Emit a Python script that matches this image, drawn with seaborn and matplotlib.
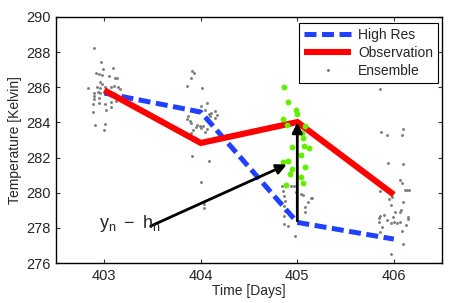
import numpy as np
import pandas as pd
import matplotlib
matplotlib.use("Agg")
import matplotlib.pyplot as plt
import seaborn as sns
from matplotlib.lines import Line2D

# ---- data ----
days = [403, 404, 405, 406]
high_res = [285.67, 284.59, 278.31, 277.36]
observation = [285.83, 282.83, 284.02, 279.89]

ens_gray_x = [
    402.89, 402.97, 402.99, 403.09, 402.91, 402.94, 402.98, 403.05, 403.11, 403.13,
    402.96, 402.98, 402.83, 402.92, 402.96, 403.01, 403.07, 403.10, 403.14, 403.16,
    402.89, 402.93, 402.96, 402.89, 402.89, 402.95, 403.07, 403.13, 402.88, 402.94,
    403.01, 403.07, 403.12, 403.07, 403.02, 402.88, 402.90, 403.01, 403.00,
    403.91, 403.93, 403.90, 403.86, 404.01, 404.06, 404.00, 403.92, 403.95, 404.04,
    404.08, 404.11, 404.15, 404.10, 403.87, 403.86, 403.89, 403.90, 403.96, 403.99,
    404.02, 403.95, 404.00, 403.92, 404.06, 403.90, 404.04, 403.91, 404.09, 404.00,
    404.03, 404.03, 404.15, 404.17,
    404.84, 404.89, 404.93, 404.97, 404.85, 404.99, 405.04, 405.06, 404.86, 405.14,
    404.87, 405.11, 405.08, 404.86, 404.87, 405.08, 404.86, 404.90, 404.86, 405.01,
    404.98, 405.15,
    405.86, 406.10, 405.87, 405.93, 406.09, 405.94, 406.10, 406.08, 405.86, 406.12,
    406.14, 406.16, 405.95, 405.98, 406.10, 405.97, 406.07, 405.90, 405.86, 405.85,
    406.01, 406.06, 405.99, 406.15, 406.15, 405.93, 405.97, 406.00, 406.03, 406.06,
    405.85, 406.13, 405.88, 406.08, 405.86, 406.10, 405.97, 406.06,
]
ens_gray_y = [
    288.24, 287.42, 287.02, 287.11, 286.81, 286.73, 286.70, 286.64, 286.53, 286.53,
    286.30, 286.19, 285.98, 285.99, 285.96, 286.03, 286.03, 286.09, 285.99, 285.88,
    285.67, 285.73, 285.65, 285.52, 285.35, 285.39, 285.52, 285.42, 285.07, 285.11,
    285.05, 285.14, 285.24, 284.90, 284.72, 284.57, 283.87, 283.91, 283.59,
    286.94, 286.81, 286.55, 286.05, 285.98, 285.10, 284.91, 284.72, 284.57, 284.68,
    284.50, 284.54, 284.67, 284.34, 284.34, 284.19, 284.06, 283.97, 283.87, 283.81,
    283.77, 283.74, 283.68, 283.59, 283.63, 283.40, 283.43, 282.11, 281.78, 280.59,
    279.13, 279.33, 284.25, 284.44,
    280.36, 280.36, 280.36, 280.36, 280.07, 280.02, 279.94, 279.87, 279.79, 279.70,
    279.53, 279.45, 279.19, 279.26, 278.94, 278.88, 278.65, 278.12, 278.24, 278.27,
    277.55, 279.70,
    285.90, 283.63, 283.45, 283.26, 283.30, 281.69, 281.63, 280.55, 280.07, 280.17,
    280.13, 280.17, 279.66, 279.76, 279.47, 279.32, 279.03, 278.75, 278.69, 278.56,
    278.88, 278.92, 278.62, 278.62, 278.50, 278.42, 278.28, 278.31, 278.28, 278.35,
    278.35, 278.16, 278.05, 277.82, 277.74, 277.10, 276.51, 280.70,
]

ens_green_x = [
    404.86, 404.90, 404.99, 405.00, 404.85, 404.89, 405.08, 405.05, 405.06, 404.94,
    405.07, 405.12, 405.04, 404.85, 404.90, 405.08, 404.94, 404.92, 405.04, 405.06,
    404.88,
]
ens_green_y = [
    286.02, 285.14, 284.68, 284.46, 284.19, 283.87, 283.81, 283.40, 283.11, 282.60,
    282.64, 282.56, 282.12, 281.72, 281.80, 281.46, 281.35, 281.08, 280.89, 280.55,
    280.45,
]

x_ticks = [403, 404, 405, 406]
y_ticks = [276, 278, 280, 282, 284, 286, 288, 290]

# ---- style ----
sns.set_theme(style="ticks")
plt.rcParams["font.family"] = ["Liberation Sans", "DejaVu Sans"]
plt.rcParams["mathtext.fontset"] = "custom"
plt.rcParams["mathtext.rm"] = "Liberation Sans"
plt.rcParams["mathtext.it"] = "Liberation Sans"

fig = plt.figure(figsize=(4.52, 3.03), dpi=100)
ax = fig.add_axes([0.124, 0.132, 0.854, 0.812])

gray_df = pd.DataFrame({"day": ens_gray_x, "temp": ens_gray_y})
green_df = pd.DataFrame({"day": ens_green_x, "temp": ens_green_y})
line_df = pd.DataFrame({"day": days, "high": high_res, "obs": observation})

sns.scatterplot(data=gray_df, x="day", y="temp", ax=ax, color="#7f7f7f",
                s=4.5, linewidth=0, zorder=2)

sns.lineplot(data=line_df, x="day", y="high", ax=ax, color="#2040ff",
             linewidth=3.6, zorder=3)
ax.lines[-1].set_linestyle((0, (2.4, 1.1)))
ax.lines[-1].set_dash_capstyle("butt")
sns.lineplot(data=line_df, x="day", y="obs", ax=ax, color="#ff0000",
             linewidth=4.4, zorder=4)
ax.lines[-1].set_solid_capstyle("butt")
ax.lines[-1].set_solid_joinstyle("miter")

sns.scatterplot(data=green_df, x="day", y="temp", ax=ax, color="#66ee00",
                s=18, linewidth=0, zorder=5)

# arrows
ax.annotate("", xy=(405.0, 284.0), xytext=(405.0, 278.4),
            arrowprops=dict(arrowstyle="-|>", color="black", lw=2,
                            mutation_scale=15, shrinkA=0, shrinkB=0),
            zorder=6)
ax.annotate("", xy=(404.89, 281.6), xytext=(403.48, 278.1),
            arrowprops=dict(arrowstyle="-|>", color="black", lw=2,
                            mutation_scale=15, shrinkA=0, shrinkB=0),
            zorder=6)
ax.text(402.95, 278.25, r"$\mathregular{y_n\ -\ h_n}$", fontsize=13,
        ha="left", va="center", zorder=6)

ax.set_xlim(402.5, 406.5)
ax.set_ylim(276, 290)
ax.set_xticks(x_ticks)
ax.set_yticks(y_ticks)
ax.tick_params(direction="in", top=True, right=True, length=3, width=0.8,
               labelsize=10.5, color="#333333", pad=4)
for s in ax.spines.values():
    s.set_linewidth(1.0)
    s.set_color("black")
ax.set_xlabel("Time [Days]", fontsize=10, labelpad=1)
ax.set_ylabel("Temperature [Kelvin]", fontsize=10, labelpad=3)

handles = [
    Line2D([], [], color="#2040ff", lw=3.6, linestyle=(0, (2.4, 1.1)),
           dash_capstyle="butt"),
    Line2D([], [], color="#ff0000", lw=4.4, solid_capstyle="butt"),
    Line2D([], [], color="#7f7f7f", lw=0, marker="o", markersize=2.2,
           markeredgewidth=0),
]
leg = ax.legend(handles, ["High Res", "Observation", "Ensemble"],
                loc="upper right", bbox_to_anchor=(0.99, 0.975),
                fontsize=10, frameon=True, fancybox=False, framealpha=1,
                edgecolor="black", handlelength=3.4, handletextpad=0.5,
                borderpad=0.35, labelspacing=0.3, borderaxespad=0)
leg.get_frame().set_linewidth(0.8)

fig.savefig("out.png", dpi=100)
